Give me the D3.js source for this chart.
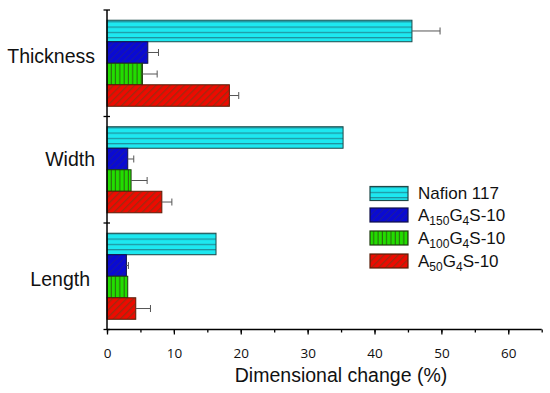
<!DOCTYPE html>
<html>
<head>
<meta charset="utf-8">
<script src="https://cdn.jsdelivr.net/npm/d3@7"></script>
<style>
  body { margin: 0; background: #fff; }
  svg { display: block; }
</style>
</head>
<body>
<div id="chart"></div>
<script>
const categories = ["Thickness", "Width", "Length"];
const series = ["Nafion 117", "A150G4S-10", "A100G4S-10", "A50G4S-10"];
// values per category, in series order
const thicknessValues = [45.6, 6.1, 5.3, 18.3];
const thicknessErrors = [4.2, 1.6, 2.2, 1.4];
const widthValues = [35.3, 3.1, 3.6, 8.2];
const widthErrors = [0, 0.9, 2.4, 1.5];
const lengthValues = [16.3, 2.9, 3.1, 4.3];
const lengthErrors = [0, 0.3, 0, 2.2];
const xTicks = [0, 10, 20, 30, 40, 50, 60];

const W = 550, H = 393;
const margin = { top: 10, left: 107, right: 8.3, bottom: 63.5 };

const values = [thicknessValues, widthValues, lengthValues];
const errors = [thicknessErrors, widthErrors, lengthErrors];
const data = [];
categories.forEach((c, i) => series.forEach((s, j) =>
    data.push({ cat: c, s: s, v: values[i][j], e: errors[i][j] })));

const svg = d3.select("#chart").append("svg")
    .attr("width", W).attr("height", H);

const defs = svg.append("defs");
function hatch(id, bg, fg, size, angle, lw) {
    const p = defs.append("pattern")
        .attr("id", id)
        .attr("patternUnits", "userSpaceOnUse")
        .attr("width", size).attr("height", size)
        .attr("patternTransform", `rotate(${angle})`);
    p.append("rect").attr("width", size).attr("height", size).attr("fill", bg);
    p.append("rect").attr("width", size).attr("height", lw).attr("fill", fg);
}
hatch("p0", "#1de8f0", "#1f8f9c", 5.3, 0, 1.2);
hatch("p1", "#0a0ad2", "#1a1aa0", 5, -45, 1);
hatch("p2", "#22dd00", "#2a6a10", 4.3, 90, 1.1);
hatch("p3", "#ee0a00", "#a02a10", 5, -45, 1.4);

const fills = ["url(#p0)", "url(#p1)", "url(#p2)", "url(#p3)"];
const strokes = ["#1d4a4a", "#10104a", "#1e3d10", "#5a1d08"];

const x = d3.scaleLinear().domain([0, 65]).range([margin.left, W - margin.right]);
const y = d3.scaleBand().domain(categories).range([margin.top, H - margin.bottom]);
const y1 = d3.scaleBand().domain(series).range([0, y.bandwidth()]).paddingOuter(0.475);
const color = d3.scaleOrdinal().domain(series).range(fills);
const stroke = d3.scaleOrdinal().domain(series).range(strokes);

// bars
svg.append("g").selectAll("rect")
    .data(data)
    .join("rect")
    .attr("x", x(0))
    .attr("y", d => y(d.cat) + y1(d.s))
    .attr("width", d => x(d.v) - x(0))
    .attr("height", y1.bandwidth())
    .attr("fill", d => color(d.s))
    .attr("stroke", d => stroke(d.s))
    .attr("stroke-width", 1);

// error bars (positive side)
const eb = svg.append("g").attr("stroke", "#555").attr("stroke-width", 1)
    .selectAll("g").data(data.filter(d => d.e > 0)).join("g");
eb.append("line")
    .attr("x1", d => x(d.v)).attr("x2", d => x(d.v + d.e))
    .attr("y1", d => y(d.cat) + y1(d.s) + y1.bandwidth() / 2)
    .attr("y2", d => y(d.cat) + y1(d.s) + y1.bandwidth() / 2);
eb.append("line")
    .attr("x1", d => x(d.v + d.e)).attr("x2", d => x(d.v + d.e))
    .attr("y1", d => y(d.cat) + y1(d.s) + y1.bandwidth() / 2 - 3.5)
    .attr("y2", d => y(d.cat) + y1(d.s) + y1.bandwidth() / 2 + 3.5);

// x axis
const xAxis = svg.append("g")
    .attr("transform", `translate(0,${H - margin.bottom})`);
xAxis.call(d3.axisBottom(x).tickValues(d3.range(0, 66, 5)).tickSize(3).tickFormat(""))
    .call(g => g.select(".domain").remove());
xAxis.append("g")
    .call(d3.axisBottom(x).tickValues(xTicks).tickSize(5).tickPadding(14))
    .call(g => g.select(".domain").remove())
    .selectAll("text")
    .attr("font-family", "'Open Sans', sans-serif")
    .attr("font-size", 13.5)
    .attr("fill", "#111");
xAxis.selectAll("line").attr("stroke", "#000").attr("stroke-width", 1.3);
xAxis.append("line")
    .attr("x1", x(0)).attr("x2", x(65))
    .attr("stroke", "#000").attr("stroke-width", 1.5);

// y axis
const yAxis = svg.append("g");
const bounds = categories.map(c => y(c)).concat([y.range()[1]]);
yAxis.selectAll(".yt").data(bounds).join("line")
    .attr("x1", x(0) - 3.5).attr("x2", x(0) + 3)
    .attr("y1", d => d).attr("y2", d => d)
    .attr("stroke", "#000").attr("stroke-width", 1.3);
yAxis.append("line")
    .attr("x1", x(0)).attr("x2", x(0))
    .attr("y1", y.range()[0]).attr("y2", y.range()[1])
    .attr("stroke", "#000").attr("stroke-width", 1.5);
const labelShift = { Thickness: -7, Width: -11, Length: 3 };
const labelRight = { Thickness: 95, Width: 95, Length: 90 };
yAxis.selectAll("text").data(categories).join("text")
    .attr("x", d => labelRight[d])
    .attr("y", d => y(d) + y.bandwidth() / 2 + labelShift[d])
    .attr("dy", "0.35em")
    .attr("text-anchor", "end")
    .attr("font-family", "'Liberation Sans', Arial, sans-serif")
    .attr("font-size", 19.5)
    .attr("fill", "#111")
    .text(d => d);

// axis title
svg.append("text")
    .attr("x", 341).attr("y", 382)
    .attr("text-anchor", "middle")
    .attr("font-family", "'Liberation Sans', Arial, sans-serif")
    .attr("font-size", 19.5)
    .attr("fill", "#111")
    .text("Dimensional change (%)");

// legend
const legendParts = [
    [["Nafion 117", false]],
    [["A", false], ["150", true], ["G", false], ["4", true], ["S-10", false]],
    [["A", false], ["100", true], ["G", false], ["4", true], ["S-10", false]],
    [["A", false], ["50", true], ["G", false], ["4", true], ["S-10", false]]
];
const legendTop = [186.5, 208, 231, 254];
const lg = svg.append("g").selectAll("g").data(series).join("g")
    .attr("transform", (d, i) => `translate(370,${legendTop[i]})`);
lg.append("rect")
    .attr("width", 38).attr("height", 14)
    .attr("fill", d => color(d))
    .attr("stroke", d => stroke(d))
    .attr("stroke-width", 1.2);
lg.append("text")
    .attr("x", 48).attr("y", 12.5)
    .attr("font-family", "'Liberation Sans', Arial, sans-serif")
    .attr("font-size", 17)
    .attr("fill", "#111")
    .each(function(d, i) {
        const t = d3.select(this);
        let sub = false;
        legendParts[i].forEach(([s, isSub]) => {
            const ts = t.append("tspan").text(s);
            if (isSub) ts.attr("font-size", 12).attr("dy", sub ? 0 : 4);
            else if (sub) ts.attr("dy", -4);
            sub = isSub;
        });
    });
</script>
</body>
</html>
